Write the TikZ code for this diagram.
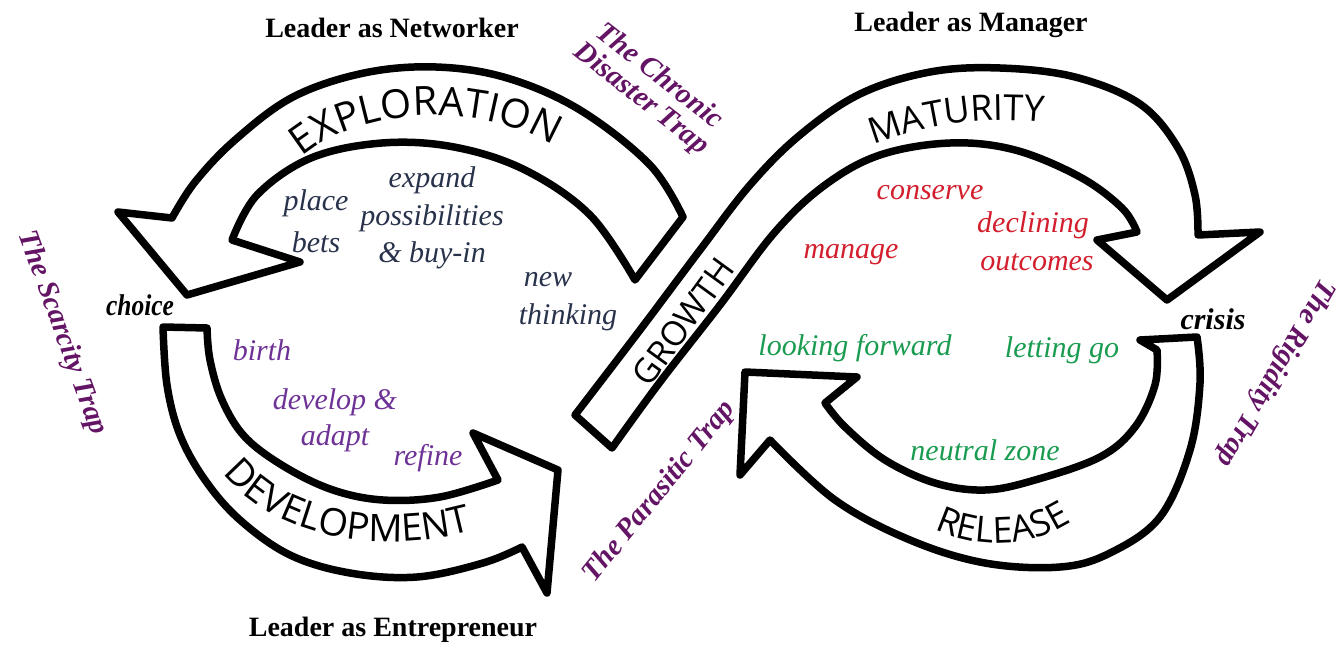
\documentclass[tikz,border=0pt]{standalone}
\usepackage{fontspec}
\setmainfont{Liberation Serif}
\newfontfamily\bandfont{Open Sans}
\usetikzlibrary{decorations.text}
\definecolor{trapc}{RGB}{100,20,100}
\definecolor{slatec}{RGB}{40,50,75}
\definecolor{violc}{RGB}{110,50,150}
\definecolor{redc}{RGB}{210,30,45}
\definecolor{greenc}{RGB}{25,155,80}
\tikzset{
  band/.style={draw=black, fill=white, line width=7.5pt, line join=round},
  lead/.style={font=\bfseries\fontsize{28}{30}\selectfont},
  trapl/.style={text=trapc, font=\bfseries\itshape\fontsize{29}{29}\selectfont, align=center},
  lab/.style={font=\itshape\fontsize{30}{32}\selectfont},
  keyw/.style={font=\bfseries\itshape\fontsize{30}{32}\selectfont},
  bandlbl/.style={font=\bandfont\fontsize{34}{34}\selectfont}
}
\begin{document}
\begin{tikzpicture}[x=1pt,y=-1pt]
\useasboundingbox (0,0) rectangle (1344,645);
% EXPLORATION arrow
\draw[band] plot[smooth, tension=0.6] coordinates {(683,217) (650,165) (580,110) (507,78) (436,67) (364,73) (293,97) (235,140) (195,182) (172,218)}
  -- (118,212) -- (187,295) -- (300,262) -- (232,240)
  -- plot[smooth, tension=0.6] coordinates {(232,240) (257,195) (311,158) (382,143) (454,147) (525,170) (590,215) (635,280)} -- cycle;
% DEVELOPMENT arrow
\draw[band] plot[smooth, tension=0.6] coordinates {(207,328) (210,360) (222,400) (245,437) (285,467) (333,490) (383,500) (440,497) (498,480)}
  -- (473,433) -- (558,470) -- (547,593) -- (522,547)
  -- plot[smooth, tension=0.6] coordinates {(522,547) (483,563) (417,577) (350,573) (290,555) (240,520) (205,480) (180,435) (167,385) (163,327)} -- cycle;
% GROWTH + MATURITY arrow
\draw[band] plot[smooth, tension=0.6] coordinates {(575,415) (640,330) (700,250) (750,185) (800,135) (860,94) (930,72) (1000,68) (1075,77) (1140,104) (1178,148) (1195,195) (1198,235)}
  -- (1260,232) -- (1167,300) -- (1097,240) -- (1137,232)
  -- plot[smooth, tension=0.6] coordinates {(1137,232) (1122,208) (1080,177) (1015,150) (950,143) (880,155) (825,185) (775,232) (720,305) (660,382) (612,448)} -- cycle;
% RELEASE arrow
\draw[band] (1140,340) -- (1197,337)
  -- plot[smooth, tension=0.6] coordinates {(1197,337) (1200,383) (1190,450) (1160,517) (1110,553) (1060,567) (985,563) (910,540) (835,500) (770,440)}
  -- (740,475) -- (745,372) -- (857,377) -- (825,403)
  -- plot[smooth, tension=0.6] coordinates {(825,403) (845,427) (885,460) (935,483) (985,490) (1035,480) (1100,457) (1135,427) (1155,385) (1157,350)} -- cycle;

% band labels
\path[decorate, decoration={text along path, text align=center, text={|\bandfont\fontsize{40}{40}\selectfont|EXPLORATION}}]
  (298,160) .. controls (355,108) and (480,98) .. (557,148);
\path[decorate, decoration={text along path, text align=center, text={|\bandfont\fontsize{38}{38}\selectfont|DEVELOPMENT}}]
  (212,458) .. controls (260,540) and (390,560) .. (490,525);
\path[decorate, decoration={text along path, text align=center, text={|\bandfont\fontsize{36}{36}\selectfont|MATURITY}}]
  (860,150) .. controls (920,124) and (990,114) .. (1058,124);
\path[decorate, decoration={text along path, text align=center, text={|\bandfont\fontsize{36}{36}\selectfont|RELEASE}}]
  (912,515) .. controls (960,552) and (1040,556) .. (1092,505);
\node[bandlbl, rotate=54] (gr) at (683,322) {GROWTH};

% leaders
\node[lead] (ln) at (392,28) {Leader as Networker};
\node[lead] (lm) at (971,25) {Leader as Manager};
\node[lead] (le) at (393,630) {Leader as Entrepreneur};
% traps
\node[trapl, rotate=-38] (tc) at (650,88) {The Chronic\\Disaster Trap};
\node[trapl, rotate=-70] (ts) at (62,333) {The Scarcity Trap};
\node[trapl, rotate=-120] (tr) at (1275,373) {The Rigidity Trap};
\node[trapl, rotate=51] (tp) at (660,492) {The Parasitic Trap};
% key words
\node[keyw, xscale=0.85] (ch) at (140,305) {choice};
\node[keyw] (cr) at (1213,319) {crisis};
% exploration labels
\node[lab, text=slatec] (l1) at (432,180) {expand};
\node[lab, text=slatec] (l2) at (432,218) {possibilities};
\node[lab, text=slatec] (l3) at (432,255) {\& buy-in};
\node[lab, text=slatec] (l4) at (316,203) {place};
\node[lab, text=slatec] (l5) at (316,242) {bets};
\node[lab, text=slatec] (l6) at (548,280) {new};
\node[lab, text=slatec] (l7) at (568,317) {thinking};
% development labels
\node[lab, text=violc] (d1) at (262,350) {birth};
\node[lab, text=violc] (d2) at (335,402) {develop \&};
\node[lab, text=violc] (d3) at (335,438) {adapt};
\node[lab, text=violc] (d4) at (428,458) {refine};
% maturity labels
\node[lab, text=redc] (m1) at (930,193) {conserve};
\node[lab, text=redc] (m2) at (851,255) {manage};
\node[lab, text=redc] (m3) at (1033,225) {declining};
\node[lab, text=redc] (m4) at (1037,262) {outcomes};
% release labels
\node[lab, text=greenc] (r1) at (855,348) {looking forward};
\node[lab, text=greenc] (r2) at (1062,350) {letting go};
\node[lab, text=greenc] (r3) at (985,450) {neutral zone};
\end{tikzpicture}
\end{document}
